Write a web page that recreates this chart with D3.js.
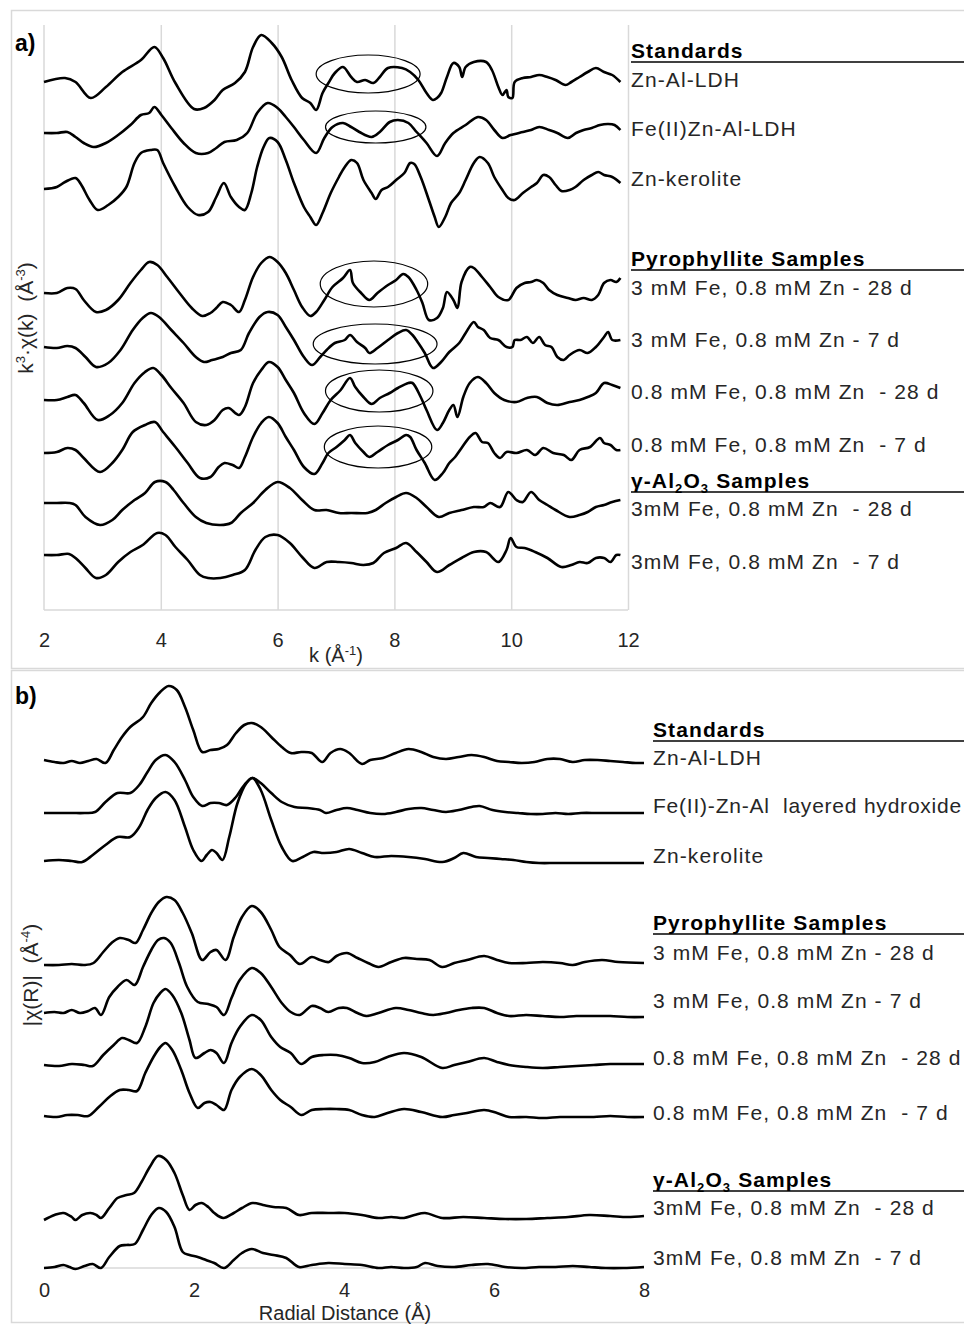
<!DOCTYPE html>
<html>
<head>
<meta charset="utf-8">
<script src="https://cdn.jsdelivr.net/npm/d3@7"></script>
<style>
  body { margin: 0; background: #fff; }
  text { font-family: "Liberation Sans", Arial, sans-serif; }
</style>
</head>
<body>
<script>

WIDTH = 964;
HEIGHT = 1325;

// ---- panel a: k3-weighted chi(k), stacked (k in 1/A, offset signal) ----
var chiZnAlLdh = [[2.00,52.8],[2.36,53.2],[2.54,52.8],[2.80,51.2],[3.06,52.3],[3.34,53.8],[3.66,55.0],[3.89,56.3],[4.04,55.2],[4.25,52.7],[4.57,50.1],[4.74,50.2],[4.92,51.0],[5.06,52.0],[5.27,52.7],[5.44,53.8],[5.58,56.3],[5.72,57.5],[5.90,56.7],[6.07,55.3],[6.24,53.0],[6.42,51.2],[6.56,50.7],[6.66,50.0],[6.77,51.7],[6.87,52.7],[6.98,53.7],[7.12,54.3],[7.26,53.3],[7.36,52.8],[7.50,53.0],[7.64,52.7],[7.75,53.3],[7.89,54.2],[8.13,54.2],[8.27,53.8],[8.41,53.0],[8.55,51.7],[8.66,51.0],[8.73,51.2],[8.80,51.7],[8.90,53.3],[9.01,54.7],[9.11,54.3],[9.16,53.3],[9.22,54.3],[9.36,54.8],[9.57,54.8],[9.67,54.0],[9.78,52.3],[9.85,51.5],[9.92,52.0],[9.95,51.3],[10.02,51.2],[10.06,52.8],[10.20,53.2],[10.34,53.3],[10.48,53.5],[10.62,53.3],[10.76,53.0],[10.93,52.5],[11.03,52.8],[11.17,53.3],[11.31,53.8],[11.45,54.2],[11.59,53.8],[11.73,53.5],[11.87,52.8]];
var chiFeZnAlLdh = [[2.00,47.7],[2.22,47.7],[2.40,47.8],[2.54,47.3],[2.68,46.7],[2.85,46.3],[3.06,46.7],[3.27,47.5],[3.48,48.5],[3.66,49.5],[3.80,49.7],[3.89,50.3],[4.01,49.5],[4.18,48.2],[4.39,46.7],[4.60,45.7],[4.81,45.7],[4.95,46.2],[5.09,46.8],[5.30,47.0],[5.48,47.7],[5.65,49.7],[5.83,50.7],[6.00,50.2],[6.14,49.3],[6.28,48.3],[6.45,47.0],[6.66,45.7],[6.80,47.2],[6.94,48.3],[7.12,48.7],[7.26,48.3],[7.40,47.8],[7.61,47.3],[7.75,47.8],[7.92,48.8],[8.06,49.0],[8.24,48.7],[8.38,47.8],[8.55,46.7],[8.73,45.4],[8.87,46.7],[9.01,47.7],[9.22,48.5],[9.43,49.3],[9.57,49.0],[9.71,48.0],[9.85,47.2],[9.99,47.5],[10.20,47.8],[10.34,48.0],[10.48,48.3],[10.65,48.0],[10.79,47.7],[10.97,47.2],[11.11,47.7],[11.24,48.0],[11.38,48.2],[11.52,48.5],[11.66,48.6],[11.77,48.5],[11.87,48.0]];
var chiKerolite = [[2.00,42.1],[2.22,42.3],[2.36,42.8],[2.54,43.2],[2.64,42.5],[2.78,41.0],[2.92,40.0],[3.10,40.5],[3.27,41.3],[3.41,42.3],[3.55,44.7],[3.66,45.7],[3.83,46.0],[3.94,46.0],[4.04,44.7],[4.25,42.3],[4.46,40.3],[4.64,39.5],[4.81,39.8],[4.95,41.3],[5.08,42.7],[5.20,41.3],[5.34,40.3],[5.44,40.0],[5.55,41.7],[5.65,44.3],[5.76,46.3],[5.86,47.2],[6.00,46.8],[6.14,45.0],[6.28,42.7],[6.45,40.3],[6.56,39.3],[6.66,38.5],[6.77,39.7],[6.91,41.7],[7.05,43.3],[7.15,44.3],[7.26,45.0],[7.36,44.7],[7.47,43.0],[7.61,41.7],[7.68,41.1],[7.78,42.0],[7.89,42.3],[8.03,43.0],[8.17,43.7],[8.27,44.7],[8.34,44.6],[8.45,43.3],[8.59,41.0],[8.69,39.3],[8.76,38.3],[8.87,39.3],[8.97,40.7],[9.11,41.7],[9.22,43.0],[9.36,44.7],[9.46,45.3],[9.60,44.7],[9.71,43.3],[9.85,42.0],[9.95,41.2],[10.06,41.0],[10.20,41.7],[10.34,42.3],[10.44,42.7],[10.55,43.5],[10.65,43.3],[10.76,42.5],[10.86,41.9],[11.00,42.0],[11.10,42.3],[11.24,43.0],[11.38,43.5],[11.49,43.8],[11.59,43.5],[11.73,43.3],[11.87,42.7]];
var chiPyr3Fe28 = [[2.00,31.7],[2.22,31.7],[2.40,32.2],[2.54,32.1],[2.68,31.0],[2.89,29.8],[3.06,30.0],[3.27,31.0],[3.48,32.7],[3.66,34.0],[3.80,34.8],[3.94,34.5],[4.11,33.3],[4.32,31.7],[4.53,30.2],[4.71,29.4],[4.85,29.7],[4.95,30.2],[5.06,30.8],[5.20,30.5],[5.34,29.8],[5.44,31.0],[5.58,33.3],[5.72,34.7],[5.86,35.3],[6.00,34.8],[6.14,33.7],[6.28,32.0],[6.42,30.3],[6.56,29.4],[6.66,29.8],[6.80,31.0],[6.94,32.3],[7.12,33.2],[7.24,34.0],[7.29,32.7],[7.43,31.7],[7.57,31.0],[7.71,31.7],[7.89,32.5],[8.03,33.0],[8.15,33.6],[8.24,33.3],[8.38,32.0],[8.48,30.7],[8.59,29.0],[8.73,29.2],[8.83,30.2],[8.90,31.8],[9.01,31.0],[9.08,30.2],[9.15,32.8],[9.29,34.3],[9.36,34.2],[9.50,33.3],[9.64,32.3],[9.78,31.3],[9.95,31.0],[10.09,32.2],[10.23,32.7],[10.34,32.8],[10.44,33.0],[10.55,32.7],[10.65,32.0],[10.79,31.5],[10.97,31.2],[11.10,31.0],[11.24,31.2],[11.38,31.0],[11.49,31.5],[11.59,32.7],[11.70,33.0],[11.80,32.8],[11.87,33.2]];
var chiPyr3Fe7 = [[2.00,26.3],[2.22,26.2],[2.40,26.4],[2.54,26.2],[2.71,25.3],[2.89,24.3],[3.10,24.7],[3.31,26.0],[3.52,28.0],[3.69,29.2],[3.83,29.7],[3.97,29.3],[4.18,28.0],[4.39,26.7],[4.60,25.3],[4.74,24.8],[4.88,25.0],[5.06,25.3],[5.20,25.7],[5.37,26.0],[5.51,27.7],[5.69,29.3],[5.83,29.8],[6.00,29.5],[6.14,28.3],[6.28,27.0],[6.45,25.3],[6.59,24.5],[6.73,25.3],[6.84,26.0],[6.98,26.7],[7.15,27.0],[7.24,27.5],[7.36,26.8],[7.50,26.2],[7.57,25.7],[7.71,26.2],[7.89,27.0],[8.06,27.7],[8.20,28.0],[8.31,27.5],[8.41,26.7],[8.52,25.7],[8.66,24.2],[8.80,24.8],[8.94,25.8],[9.11,26.7],[9.22,27.7],[9.36,28.8],[9.43,28.3],[9.53,28.0],[9.64,27.2],[9.78,27.0],[9.92,26.3],[10.02,26.3],[10.06,27.0],[10.16,27.0],[10.27,27.3],[10.37,26.7],[10.48,27.3],[10.58,26.5],[10.69,26.3],[10.79,25.3],[10.90,25.0],[11.00,25.5],[11.17,26.0],[11.31,25.7],[11.45,26.3],[11.59,27.3],[11.66,27.8],[11.73,27.0],[11.87,27.0]];
var chiPyr08Fe28 = [[2.00,21.0],[2.22,21.0],[2.40,21.3],[2.54,21.5],[2.68,20.7],[2.92,19.0],[3.13,19.5],[3.34,20.7],[3.55,22.7],[3.73,23.8],[3.87,24.2],[4.01,23.5],[4.18,22.2],[4.39,20.7],[4.60,18.8],[4.78,18.5],[4.92,19.0],[5.06,20.0],[5.16,20.2],[5.34,19.5],[5.44,20.3],[5.58,22.7],[5.72,24.0],[5.85,24.8],[6.00,24.3],[6.14,23.0],[6.28,21.7],[6.45,19.7],[6.63,18.6],[6.77,19.7],[6.91,21.0],[7.08,22.0],[7.24,23.2],[7.33,22.3],[7.47,21.3],[7.61,20.6],[7.75,21.2],[7.92,21.7],[8.06,22.2],[8.24,22.7],[8.31,22.7],[8.45,21.3],[8.55,20.0],[8.73,18.0],[8.83,18.7],[8.94,20.0],[9.01,20.5],[9.08,19.3],[9.18,21.3],[9.29,22.7],[9.43,23.3],[9.57,22.7],[9.71,21.7],[9.88,21.0],[10.09,20.8],[10.27,21.2],[10.44,21.3],[10.62,20.7],[10.79,20.5],[11.00,20.8],[11.17,21.0],[11.31,21.3],[11.45,21.7],[11.59,22.7],[11.73,22.5],[11.87,22.2]];
var chiPyr08Fe7 = [[2.00,15.7],[2.22,15.8],[2.40,16.2],[2.54,16.0],[2.68,15.2],[2.96,13.8],[3.17,14.7],[3.34,16.0],[3.52,17.8],[3.73,18.5],[3.90,18.8],[4.04,17.8],[4.25,16.3],[4.46,14.7],[4.67,13.2],[4.85,13.3],[4.99,14.3],[5.09,14.7],[5.23,14.5],[5.34,14.2],[5.44,15.3],[5.58,17.3],[5.72,18.7],[5.85,19.3],[6.00,18.7],[6.14,17.3],[6.28,16.0],[6.45,14.3],[6.63,13.6],[6.77,14.7],[6.87,15.7],[7.01,16.3],[7.15,17.0],[7.24,17.5],[7.33,16.7],[7.47,15.8],[7.57,15.3],[7.71,15.8],[7.89,16.5],[8.06,17.0],[8.20,17.5],[8.27,17.3],[8.38,16.0],[8.52,14.7],[8.69,13.0],[8.83,13.7],[8.94,14.7],[9.04,15.3],[9.15,16.2],[9.29,17.3],[9.39,17.7],[9.50,16.8],[9.60,16.7],[9.71,15.7],[9.81,15.2],[9.92,15.8],[10.09,15.7],[10.27,16.0],[10.41,15.5],[10.55,16.2],[10.72,15.7],[10.90,15.5],[11.03,15.0],[11.17,16.0],[11.35,16.3],[11.52,17.2],[11.59,16.7],[11.70,16.5],[11.80,16.0],[11.87,16.0]];
var chiAlo3Fe28 = [[2.00,10.7],[2.22,10.7],[2.43,10.7],[2.54,10.5],[2.71,9.3],[2.96,8.5],[3.17,9.0],[3.34,10.0],[3.55,11.0],[3.73,11.7],[3.90,12.8],[4.08,12.8],[4.22,12.0],[4.39,10.7],[4.60,9.3],[4.78,8.7],[5.02,8.5],[5.20,8.7],[5.37,9.7],[5.58,10.7],[5.79,12.0],[6.00,12.8],[6.21,12.2],[6.42,11.0],[6.63,10.0],[6.84,10.0],[7.05,9.7],[7.26,9.7],[7.54,9.7],[7.68,10.0],[7.85,10.7],[8.03,11.3],[8.20,11.7],[8.38,11.2],[8.55,10.3],[8.76,9.3],[8.94,9.7],[9.15,10.0],[9.36,10.3],[9.53,10.3],[9.64,10.7],[9.81,10.3],[9.95,11.8],[10.09,11.0],[10.20,10.8],[10.34,11.8],[10.48,11.0],[10.62,10.5],[10.76,10.0],[11.00,9.3],[11.17,9.5],[11.31,9.8],[11.45,10.3],[11.59,10.5],[11.73,10.8],[11.87,11.0]];
var chiAlo3Fe7 = [[2.00,5.5],[2.22,5.5],[2.43,5.6],[2.54,5.2],[2.71,4.2],[2.89,3.2],[3.06,3.5],[3.27,4.8],[3.48,5.8],[3.69,6.5],[3.94,7.7],[4.08,7.5],[4.25,6.3],[4.46,5.0],[4.67,3.5],[4.81,3.2],[5.02,3.2],[5.23,3.5],[5.44,4.0],[5.62,6.0],[5.79,7.3],[6.00,7.5],[6.21,6.7],[6.42,5.3],[6.63,4.2],[6.84,4.8],[7.05,4.8],[7.26,4.7],[7.47,4.5],[7.64,4.7],[7.82,5.7],[8.03,6.2],[8.20,6.7],[8.38,5.8],[8.55,4.8],[8.73,3.8],[8.94,4.5],[9.15,5.2],[9.36,5.8],[9.57,5.8],[9.78,4.8],[9.92,6.0],[9.99,7.2],[10.09,6.3],[10.23,6.2],[10.41,5.8],[10.62,5.2],[10.86,4.3],[11.03,4.5],[11.17,4.8],[11.31,4.7],[11.45,5.2],[11.59,5.2],[11.70,4.8],[11.80,5.5],[11.87,5.5]];

// circled k-region [k, signal, half-width k, half-height signal]
var ellipsesA = [[7.55,53.6,0.89,1.9],[7.68,48.3,0.86,1.6],[7.65,32.6,0.92,2.3],[7.67,26.6,1.06,2.0],[7.74,21.9,0.92,2.1],[7.72,16.3,0.92,2.1]];

// ---- panel b: |chi(R)|, stacked (R in A) ----
var ftZnAlLdh = [[0.00,50.8],[0.14,50.6],[0.26,50.5],[0.37,50.7],[0.48,50.5],[0.59,50.7],[0.70,50.9],[0.82,50.5],[0.93,51.8],[1.04,53.1],[1.15,54.1],[1.32,55.1],[1.43,56.5],[1.55,57.6],[1.66,58.2],[1.77,57.8],[1.88,56.1],[1.99,53.8],[2.11,51.6],[2.22,51.8],[2.33,51.9],[2.44,52.3],[2.56,53.5],[2.67,54.3],[2.77,54.5],[2.89,54.1],[3.03,53.1],[3.17,52.1],[3.29,51.5],[3.43,51.6],[3.57,51.5],[3.71,50.6],[3.82,51.5],[3.95,51.9],[4.07,51.5],[4.24,50.4],[4.35,50.8],[4.52,51.0],[4.69,51.5],[4.86,51.9],[5.03,51.6],[5.19,51.1],[5.36,50.9],[5.53,51.1],[5.70,51.3],[5.87,51.1],[6.04,50.7],[6.20,50.6],[6.37,50.5],[6.54,50.6],[6.71,50.9],[6.88,50.9],[7.05,50.6],[7.21,50.8],[7.38,50.8],[7.55,50.7],[7.72,50.6],[7.89,50.5],[8.00,50.5]];
var ftFeZnAl = [[0.00,45.5],[0.20,45.5],[0.37,45.5],[0.54,45.5],[0.68,45.6],[0.82,46.6],[0.98,47.5],[1.15,47.5],[1.27,48.3],[1.38,49.6],[1.49,50.8],[1.62,51.3],[1.74,50.6],[1.88,48.8],[1.99,47.1],[2.11,46.2],[2.22,46.5],[2.33,46.5],[2.44,46.3],[2.56,47.1],[2.67,48.3],[2.78,49.0],[2.89,48.5],[3.03,47.5],[3.17,46.6],[3.34,46.1],[3.51,46.0],[3.68,45.8],[3.76,45.5],[3.90,45.8],[4.04,46.0],[4.18,45.8],[4.35,45.5],[4.52,45.4],[4.69,45.6],[4.86,45.9],[5.03,46.0],[5.19,45.8],[5.36,45.6],[5.53,45.8],[5.70,46.1],[5.81,46.2],[5.98,45.8],[6.15,45.6],[6.32,45.5],[6.49,45.4],[6.65,45.4],[6.82,45.5],[6.99,45.4],[7.16,45.5],[7.38,45.5],[7.61,45.5],[7.83,45.5],[8.00,45.5]];
var ftKerolite = [[0.00,40.7],[0.20,40.8],[0.37,40.7],[0.51,40.6],[0.65,41.3],[0.82,42.3],[0.98,43.1],[1.15,43.1],[1.27,44.1],[1.38,45.8],[1.49,47.0],[1.62,47.6],[1.74,46.8],[1.88,44.1],[1.99,41.8],[2.10,40.7],[2.17,41.3],[2.24,41.8],[2.30,41.5],[2.38,40.8],[2.47,43.1],[2.58,46.5],[2.70,48.5],[2.78,49.0],[2.89,47.8],[3.03,44.8],[3.17,42.1],[3.31,40.7],[3.45,41.1],[3.59,41.6],[3.73,41.5],[3.90,41.6],[4.07,41.9],[4.24,41.5],[4.41,41.1],[4.63,41.2],[4.86,41.1],[5.08,40.9],[5.31,40.6],[5.47,41.0],[5.59,41.5],[5.76,41.1],[5.92,41.0],[6.09,40.9],[6.26,40.8],[6.43,40.6],[6.60,40.5],[6.82,40.5],[7.05,40.5],[7.27,40.5],[7.49,40.5],[7.72,40.5],[8.00,40.5]];
var ftPyr3Fe28 = [[0.00,30.3],[0.20,30.3],[0.37,30.4],[0.54,30.3],[0.66,30.5],[0.79,31.6],[0.90,32.5],[1.01,33.0],[1.13,32.8],[1.22,32.5],[1.32,33.8],[1.43,35.5],[1.53,36.6],[1.63,37.1],[1.74,36.8],[1.85,35.5],[1.97,33.5],[2.11,30.8],[2.22,31.6],[2.30,31.8],[2.42,30.8],[2.53,33.1],[2.64,35.1],[2.77,36.2],[2.89,35.6],[3.03,33.8],[3.14,32.1],[3.28,31.3],[3.41,30.4],[3.57,31.1],[3.68,30.8],[3.80,30.6],[3.90,31.2],[4.04,31.5],[4.18,31.0],[4.32,30.5],[4.46,30.1],[4.63,30.6],[4.80,31.0],[4.97,30.9],[5.14,30.8],[5.31,30.1],[5.47,30.5],[5.64,30.8],[5.87,31.2],[6.04,30.8],[6.20,30.5],[6.43,30.5],[6.65,30.6],[6.88,30.5],[7.05,30.3],[7.21,30.6],[7.44,30.8],[7.66,30.6],[8.00,30.5]];
var ftPyr3Fe7 = [[0.00,25.5],[0.14,25.6],[0.26,25.5],[0.37,25.8],[0.48,25.5],[0.59,25.7],[0.68,26.0],[0.76,25.3],[0.87,27.1],[0.98,28.1],[1.10,28.8],[1.21,28.3],[1.32,30.1],[1.43,31.8],[1.52,32.8],[1.60,33.0],[1.69,32.5],[1.80,30.5],[1.91,28.1],[2.05,26.6],[2.19,26.4],[2.30,26.1],[2.40,25.3],[2.50,27.0],[2.61,28.8],[2.77,30.0],[2.89,29.5],[3.03,28.1],[3.17,26.5],[3.29,25.6],[3.41,25.3],[3.57,26.2],[3.68,26.0],[3.79,25.6],[3.93,26.0],[4.04,26.0],[4.18,25.5],[4.30,25.2],[4.46,25.5],[4.69,26.0],[4.86,25.8],[5.03,25.5],[5.19,25.3],[5.36,25.5],[5.53,25.8],[5.70,26.0],[5.87,26.0],[6.04,25.5],[6.20,25.2],[6.43,25.3],[6.65,25.2],[6.88,25.1],[7.10,25.2],[7.33,25.2],[7.55,25.2],[7.78,25.1],[8.00,25.1]];
var ftPyr08Fe28 = [[0.00,20.3],[0.20,20.2],[0.37,20.4],[0.54,20.3],[0.65,20.2],[0.79,21.3],[0.93,22.3],[1.04,23.0],[1.13,22.8],[1.24,22.5],[1.35,24.1],[1.46,26.5],[1.55,27.5],[1.62,27.9],[1.71,27.3],[1.83,25.5],[1.94,22.8],[2.02,21.0],[2.14,21.5],[2.22,21.8],[2.30,21.5],[2.40,20.5],[2.50,22.5],[2.61,24.1],[2.77,25.3],[2.89,24.8],[3.03,23.1],[3.15,22.1],[3.29,21.5],[3.43,20.4],[3.57,21.1],[3.73,21.3],[3.90,21.3],[4.07,21.0],[4.24,20.5],[4.41,20.6],[4.58,21.1],[4.80,21.5],[5.03,21.1],[5.31,20.0],[5.47,20.3],[5.64,20.6],[5.87,21.0],[6.04,20.6],[6.20,20.3],[6.43,20.1],[6.65,20.0],[6.88,20.1],[7.10,20.2],[7.33,20.3],[7.55,20.4],[7.78,20.4],[8.00,20.4]];
var ftPyr08Fe7 = [[0.00,15.2],[0.17,15.1],[0.31,15.3],[0.45,15.3],[0.59,15.2],[0.73,16.1],[0.87,17.1],[1.01,17.8],[1.13,17.8],[1.24,17.7],[1.35,19.5],[1.46,21.1],[1.55,22.1],[1.62,22.5],[1.71,21.8],[1.83,19.8],[1.94,17.5],[2.05,16.0],[2.14,16.5],[2.22,16.6],[2.30,16.3],[2.40,15.8],[2.50,17.8],[2.61,19.1],[2.77,19.9],[2.89,19.3],[3.03,17.8],[3.15,16.8],[3.29,16.1],[3.43,15.3],[3.57,15.8],[3.73,15.9],[3.90,15.9],[4.07,15.8],[4.24,15.3],[4.41,15.1],[4.58,15.5],[4.80,15.9],[5.03,15.6],[5.31,15.1],[5.47,15.3],[5.64,15.5],[5.87,15.8],[6.04,15.5],[6.20,15.1],[6.43,15.1],[6.65,15.0],[6.88,15.1],[7.10,15.1],[7.33,15.1],[7.55,15.2],[7.78,15.1],[8.00,15.1]];
var ftAlo3Fe28 = [[0.00,4.8],[0.14,5.3],[0.26,5.5],[0.37,5.1],[0.42,4.8],[0.51,5.3],[0.62,5.5],[0.70,5.3],[0.76,5.0],[0.87,6.0],[0.98,7.0],[1.10,7.3],[1.20,7.5],[1.30,8.6],[1.41,10.1],[1.52,11.2],[1.63,10.8],[1.74,9.5],[1.85,7.3],[1.94,5.8],[2.02,6.3],[2.10,6.5],[2.19,6.1],[2.27,5.5],[2.39,5.0],[2.53,5.5],[2.64,6.0],[2.78,6.5],[2.92,6.3],[3.06,6.1],[3.23,6.0],[3.40,5.3],[3.57,5.5],[3.79,5.5],[4.01,5.5],[4.24,5.3],[4.46,5.0],[4.63,5.1],[4.80,5.0],[4.94,5.3],[5.08,5.5],[5.31,5.0],[5.59,5.1],[5.87,5.0],[6.15,4.9],[6.43,4.9],[6.71,5.0],[6.99,5.1],[7.27,5.3],[7.55,5.2],[7.78,5.1],[8.00,5.2]];
var ftAlo3Fe7 = [[0.00,0.0],[0.14,0.1],[0.26,0.3],[0.34,0.1],[0.42,-0.1],[0.54,0.2],[0.65,0.4],[0.76,0.0],[0.87,1.1],[1.01,2.2],[1.10,2.3],[1.21,2.4],[1.32,3.8],[1.43,5.3],[1.53,6.0],[1.63,5.6],[1.74,4.1],[1.85,1.6],[1.94,1.3],[2.05,1.1],[2.16,0.8],[2.27,0.5],[2.40,0.0],[2.53,0.8],[2.64,1.5],[2.77,1.9],[2.92,1.5],[3.06,1.3],[3.23,1.0],[3.40,0.1],[3.57,0.3],[3.79,0.5],[4.01,0.4],[4.24,0.3],[4.46,0.0],[4.63,0.1],[4.80,0.0],[4.97,0.1],[5.08,0.5],[5.25,0.2],[5.47,0.1],[5.70,0.3],[5.92,0.4],[6.15,0.1],[6.37,0.0],[6.60,0.1],[6.82,0.1],[7.05,0.2],[7.27,0.1],[7.49,0.0],[7.72,0.0],[8.00,0.1]];

var seriesA = [chiZnAlLdh, chiFeZnAlLdh, chiKerolite, chiPyr3Fe28, chiPyr3Fe7, chiPyr08Fe28, chiPyr08Fe7, chiAlo3Fe28, chiAlo3Fe7];
var seriesB = [ftZnAlLdh, ftFeZnAl, ftKerolite, ftPyr3Fe28, ftPyr3Fe7, ftPyr08Fe28, ftPyr08Fe7, ftAlo3Fe28, ftAlo3Fe7];

var labelsA = ["Zn-Al-LDH", "Fe(II)Zn-Al-LDH", "Zn-kerolite",
    "3 mM Fe, 0.8 mM Zn - 28 d", "3 mM Fe, 0.8 mM Zn - 7 d",
    "0.8 mM Fe, 0.8 mM Zn  - 28 d", "0.8 mM Fe, 0.8 mM Zn  - 7 d",
    "3mM Fe, 0.8 mM Zn  - 28 d", "3mM Fe, 0.8 mM Zn  - 7 d"];
var labelsB = ["Zn-Al-LDH", "Fe(II)-Zn-Al  layered hydroxide", "Zn-kerolite",
    "3 mM Fe, 0.8 mM Zn - 28 d", "3 mM Fe, 0.8 mM Zn - 7 d",
    "0.8 mM Fe, 0.8 mM Zn  - 28 d", "0.8 mM Fe, 0.8 mM Zn  - 7 d",
    "3mM Fe, 0.8 mM Zn  - 28 d", "3mM Fe, 0.8 mM Zn  - 7 d"];

var ticksA = [2, 4, 6, 8, 10, 12];
var ticksB = [0, 2, 4, 6, 8];

// layout (pixels)
var LAB_YA = [87, 136, 186, 295, 347, 399, 452, 516, 569];
var HEAD_YA = [58, 266, 488];
var LAB_YB = [765, 813, 863, 960, 1008, 1065, 1120, 1215, 1265];
var HEAD_YB = [737, 930, 1187];
var LINE_COLOR = "#000";
var GRID = "#d9d9d9";
var TXT = "#262626";
var SPACING = 1.1;

var svg = d3.select("body").append("svg")
    .attr("width", WIDTH)
    .attr("height", HEIGHT)
    .style("display", "block");

svg.append("rect").attr("width", WIDTH).attr("height", HEIGHT).attr("fill", "#fff");

// panel frames
svg.append("rect").attr("x", 11.5).attr("y", 10.5).attr("width", 980).attr("height", 658)
    .attr("fill", "none").attr("stroke", GRID).attr("stroke-width", 1.5);
svg.append("rect").attr("x", 11.5).attr("y", 670.5).attr("width", 980).attr("height", 652)
    .attr("fill", "none").attr("stroke", GRID).attr("stroke-width", 1.5);

// ---------------- panel a ----------------
var xA = d3.scaleLinear().domain([2, 12]).range([44, 628]);
var yA = d3.scaleLinear().domain([0, 58]).range([610, 30]);

svg.append("g")
    .attr("transform", "translate(0,610)")
    .call(d3.axisBottom(xA).tickValues(ticksA.slice(1)).tickSize(-585).tickFormat(""))
    .call(g => g.select(".domain").remove())
    .call(g => g.selectAll(".tick line").attr("stroke", GRID).attr("stroke-width", 1.5));

svg.append("line").attr("x1", xA(2)).attr("x2", xA(2)).attr("y1", 25).attr("y2", 610)
    .attr("stroke", GRID).attr("stroke-width", 1.5);
svg.append("line").attr("x1", xA(2)).attr("x2", xA(12)).attr("y1", 610).attr("y2", 610)
    .attr("stroke", GRID).attr("stroke-width", 1.5);

svg.append("g")
    .attr("transform", "translate(0,610)")
    .call(d3.axisBottom(xA).tickValues(ticksA).tickSize(0).tickPadding(23))
    .call(g => g.select(".domain").remove())
    .call(g => g.selectAll("text").attr("font-size", 20).attr("fill", TXT)
        .style("font-family", "'Liberation Sans', Arial, sans-serif"));

var lineA = d3.line()
    .x(d => xA(d[0]))
    .y(d => yA(d[1]))
    .curve(d3.curveCatmullRom.alpha(0.5));

svg.append("g").selectAll("path")
    .data(seriesA)
    .enter().append("path")
    .attr("d", lineA)
    .attr("fill", "none")
    .attr("stroke", LINE_COLOR)
    .attr("stroke-width", 2.6)
    .attr("stroke-linejoin", "round");

svg.append("g").selectAll("ellipse")
    .data(ellipsesA)
    .enter().append("ellipse")
    .attr("cx", d => xA(d[0]))
    .attr("cy", d => yA(d[1]))
    .attr("rx", d => xA(d[0] + d[2]) - xA(d[0]))
    .attr("ry", d => yA(d[1]) - yA(d[1] + d[3]))
    .attr("fill", "none")
    .attr("stroke", "#000")
    .attr("stroke-width", 1.2);

// ---------------- panel b ----------------
var xB = d3.scaleLinear().domain([0, 8]).range([44, 644]);
var yB = d3.scaleLinear().domain([0, 55]).range([1268, 718]);

svg.append("line").attr("x1", xB(0)).attr("x2", xB(8)).attr("y1", 1268).attr("y2", 1268)
    .attr("stroke", GRID).attr("stroke-width", 1.5);

svg.append("g")
    .attr("transform", "translate(0,1268)")
    .call(d3.axisBottom(xB).tickValues(ticksB).tickSize(0).tickPadding(15))
    .call(g => g.select(".domain").remove())
    .call(g => g.selectAll("text").attr("font-size", 20).attr("fill", TXT)
        .style("font-family", "'Liberation Sans', Arial, sans-serif"));

var lineB = d3.line()
    .x(d => xB(d[0]))
    .y(d => yB(d[1]))
    .curve(d3.curveCatmullRom.alpha(0.5));

svg.append("g").selectAll("path")
    .data(seriesB)
    .enter().append("path")
    .attr("d", lineB)
    .attr("fill", "none")
    .attr("stroke", LINE_COLOR)
    .attr("stroke-width", 2.6)
    .attr("stroke-linejoin", "round");

// ---------------- text ----------------
function header(x, y, parts) {
    var t = svg.append("text").attr("x", x).attr("y", y)
        .attr("font-size", 21).attr("font-weight", "bold").attr("fill", "#000")
        .attr("letter-spacing", SPACING);
    parts.forEach(p => {
        var s = t.append("tspan").text(p[0]);
        if (p[1] == "sub") s.attr("font-size", 13).attr("dy", 5);
        if (p[1] == "up") s.attr("dy", -5);
    });
    svg.append("line").attr("x1", x).attr("x2", WIDTH).attr("y1", y + 4).attr("y2", y + 4)
        .attr("stroke", "#000").attr("stroke-width", 1.7);
}

function legend(x, ys, heads, labels) {
    header(x, heads[0], [["Standards"]]);
    header(x, heads[1], [["Pyrophyllite Samples"]]);
    header(x, heads[2], [["γ-Al"], ["2", "sub"], ["O", "up"], ["3", "sub"], [" Samples", "up"]]);
    svg.append("g").selectAll("text")
        .data(labels)
        .enter().append("text")
        .attr("x", x)
        .attr("y", (d, i) => ys[i])
        .attr("font-size", 21)
        .attr("letter-spacing", SPACING)
        .attr("fill", TXT)
        .style("white-space", "pre")
        .text(d => d)
        .each(function() {
            // keep the longest label inside the page
            var room = WIDTH - 2 - x;
            var w = this.getComputedTextLength();
            if (w > room) {
                var n = this.getNumberOfChars();
                d3.select(this).attr("letter-spacing", Math.max(0, SPACING - (w - room) / n));
            }
        });
}

legend(631, LAB_YA, HEAD_YA, labelsA);
legend(653, LAB_YB, HEAD_YB, labelsB);

svg.append("text").attr("x", 15).attr("y", 51).attr("font-size", 23).attr("font-weight", "bold").text("a)");
svg.append("text").attr("x", 15).attr("y", 704).attr("font-size", 23).attr("font-weight", "bold").text("b)");

// axis titles
var kt = svg.append("text").attr("x", 336).attr("y", 662).attr("text-anchor", "middle")
    .attr("font-size", 20).attr("fill", TXT);
kt.append("tspan").text("k (Å");
kt.append("tspan").attr("font-size", 13).attr("dy", -7).text("-1");
kt.append("tspan").attr("dy", 7).text(")");

svg.append("text").attr("x", 345).attr("y", 1320).attr("text-anchor", "middle")
    .attr("font-size", 20).attr("fill", TXT).text("Radial Distance (Å)");

var ya = svg.append("text").attr("transform", "translate(33,318) rotate(-90)")
    .attr("text-anchor", "middle").attr("font-size", 21).attr("fill", TXT)
    .style("white-space", "pre");
ya.append("tspan").text("k");
ya.append("tspan").attr("font-size", 13).attr("dy", -8).text("3");
ya.append("tspan").attr("dy", 8).text("·χ(k)  (Å");
ya.append("tspan").attr("font-size", 13).attr("dy", -8).text("-3");
ya.append("tspan").attr("dy", 8).text(")");

var yb = svg.append("text").attr("transform", "translate(38,975) rotate(-90)")
    .attr("text-anchor", "middle").attr("font-size", 21).attr("fill", TXT)
    .style("white-space", "pre");
yb.append("tspan").text("|χ(R)|  (Å");
yb.append("tspan").attr("font-size", 13).attr("dy", -8).text("-4");
yb.append("tspan").attr("dy", 8).text(")");

</script>
</body>
</html>
